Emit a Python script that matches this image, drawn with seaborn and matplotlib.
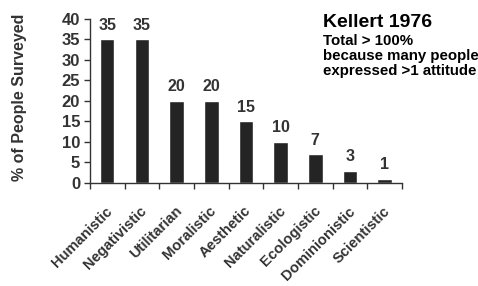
import numpy as np
import pandas as pd
import matplotlib
matplotlib.use("Agg")
import matplotlib.pyplot as plt
import matplotlib.transforms as mtrans
import seaborn as sns

# Kellert 1976 attitudes toward animals
attitudes = ["Humanistic", "Negativistic", "Utilitarian", "Moralistic", "Aesthetic",
             "Naturalistic", "Ecologistic", "Dominionistic", "Scientistic"]
percent = [35, 35, 20, 20, 15, 10, 7, 3, 1]
y_ticks = [0, 5, 10, 15, 20, 25, 30, 35, 40]
note_lines = ["Total > 100%", "because many people", "expressed >1 attitude"]

sns.set_theme(style="white")
plt.rcParams['font.family'] = ['Liberation Sans', 'DejaVu Sans']
plt.rcParams['font.weight'] = 'bold'

text_col = "#333333"
bar_col = "#242424"

df = pd.DataFrame({"attitude": attitudes, "percent": percent})

fig = plt.figure(figsize=(4.78, 2.86), dpi=100)
ax = fig.add_axes([0.188, 0.36, 0.653, 0.575])

sns.barplot(data=df, x="attitude", y="percent", color=bar_col, width=0.42,
            saturation=1, ax=ax)

for i, v in enumerate(percent):
    ax.text(i, v + 1.6, str(v), ha="center", va="bottom", fontsize=11.5,
            fontweight="bold", color=text_col)

ax.set_xlim(-0.5, len(attitudes) - 0.5)
ax.set_ylim(0, 40)
ax.set_yticks(y_ticks)
ax.set_yticklabels([str(t) for t in y_ticks], fontsize=12, fontweight="bold", color=text_col)
ax.set_xticks(range(len(attitudes)))
ax.set_xticklabels(attitudes, rotation=45, ha="right", rotation_mode="anchor",
                   fontsize=10.6, fontweight="bold", color=text_col)
ax.tick_params(axis="x", which="major", length=0, pad=15)
shift = mtrans.ScaledTranslation(-2 / 100, 0, fig.dpi_scale_trans)
for lab in ax.get_xticklabels():
    lab.set_transform(lab.get_transform() + shift)
ax.set_xticks(np.arange(-0.5, len(attitudes), 1), minor=True)
ax.tick_params(axis="x", which="minor", length=4, width=1, color="#333333", direction="out",
               bottom=True)
ax.tick_params(axis="y", length=4, width=1, color="#333333", direction="out", left=True, pad=3)
ax.set_xlabel("")
ax.set_ylabel("% of People Surveyed", fontsize=11.5, fontweight="bold", color=text_col)
ax.yaxis.set_label_coords(-0.203, 0.52)

sns.despine(ax=ax)
for s in ["left", "bottom"]:
    ax.spines[s].set_color("#333333")
    ax.spines[s].set_linewidth(1)

fig.text(0.676, 0.906, "Kellert 1976", fontsize=14, fontweight="bold", color="black",
         va="baseline")
for k, line in enumerate(note_lines):
    fig.text(0.676, 0.843 - k * 0.0525, line, fontsize=10.8, fontweight="bold",
             color="black", va="baseline")

fig.savefig("out.png", dpi=100)
